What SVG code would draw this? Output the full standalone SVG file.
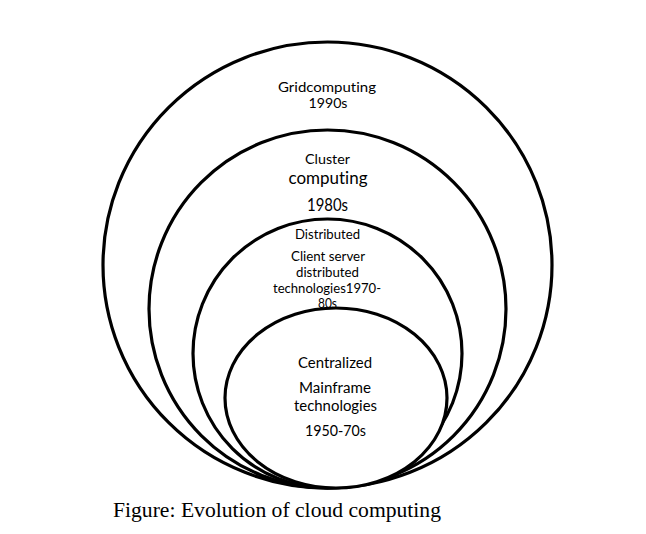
<svg xmlns="http://www.w3.org/2000/svg" width="646" height="534" viewBox="0 0 646 534">
<style>
.ring{fill:#fff;stroke:#000;stroke-width:3.2}
.t{font-family:Lato,"Open Sans","Liberation Sans",sans-serif;fill:#000;text-anchor:middle;font-variant-ligatures:none;font-feature-settings:"liga" 0}
.s{font-size:13.5px}
.m{font-size:14.5px}
.b{font-size:16.5px}
.cap{font-family:"Liberation Serif","Times New Roman",serif;font-size:20.5px;fill:#000}
</style>
<rect width="646" height="534" fill="#fff"/>
<g id="grid">
<ellipse class="ring" cx="327.5" cy="265" rx="224.5" ry="223"/>
<text class="t s" x="327" y="92" textLength="98" lengthAdjust="spacingAndGlyphs">Gridcomputing</text>
<text class="t s" x="328" y="108" textLength="39" lengthAdjust="spacingAndGlyphs">1990s</text>
</g>
<g id="cluster">
<ellipse class="ring" cx="327.5" cy="309" rx="178.5" ry="179"/>
<text class="t s" x="327.5" y="164" textLength="45" lengthAdjust="spacingAndGlyphs">Cluster</text>
<text class="t b" x="328" y="184" textLength="79" lengthAdjust="spacingAndGlyphs">computing</text>
<text class="t b" x="327.5" y="211" textLength="41" lengthAdjust="spacingAndGlyphs">1980s</text>
</g>
<g id="distributed">
<ellipse class="ring" cx="327.5" cy="353.5" rx="134.5" ry="134.5"/>
<text class="t s" x="327.5" y="239" textLength="65" lengthAdjust="spacingAndGlyphs">Distributed</text>
<text class="t s" x="328" y="261" textLength="74" lengthAdjust="spacingAndGlyphs">Client server</text>
<text class="t s" x="327.5" y="277" textLength="63" lengthAdjust="spacingAndGlyphs">distributed</text>
<text class="t s" x="327" y="293" textLength="108" lengthAdjust="spacingAndGlyphs">technologies1970-</text>
<text class="t s" x="327.5" y="308" textLength="19" lengthAdjust="spacingAndGlyphs">80s</text>
</g>
<g id="centralized">
<ellipse class="ring" cx="336" cy="398" rx="111" ry="90"/>
<text class="t m" x="335" y="368" textLength="74" lengthAdjust="spacingAndGlyphs">Centralized</text>
<text class="t m" x="335" y="393" textLength="72" lengthAdjust="spacingAndGlyphs">Mainframe</text>
<text class="t m" x="335.5" y="411" textLength="83" lengthAdjust="spacingAndGlyphs">technologies</text>
<text class="t m" x="335.5" y="436" textLength="61" lengthAdjust="spacingAndGlyphs">1950-70s</text>
</g>
<g id="connectors"></g>
<text class="cap" x="113" y="517" textLength="328" lengthAdjust="spacingAndGlyphs">Figure: Evolution of cloud computing</text>
</svg>
